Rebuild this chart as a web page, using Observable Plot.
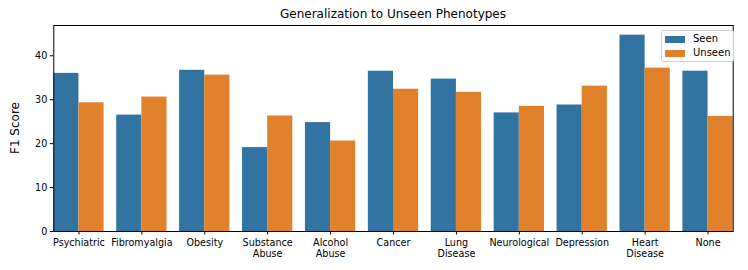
<!DOCTYPE html>
<html><head><meta charset="utf-8">
<script src="https://cdn.jsdelivr.net/npm/d3@7"></script>
<script src="https://cdn.jsdelivr.net/npm/@observablehq/plot@0.6"></script>
<style>
body{margin:0;background:#fff;font-family:"DejaVu Sans",sans-serif;}
#wrap{position:relative;width:748px;height:270px;overflow:hidden;}
#title{position:absolute;left:47px;width:692px;top:7px;height:14px;line-height:14px;font-size:12px;text-align:center;color:#000;}
#plot{position:absolute;left:0;top:24px;}
#ylab{position:absolute;left:14.5px;top:128px;font-size:12px;white-space:nowrap;transform:translate(-50%,-50%) rotate(-90deg);color:#000;}
#legend{position:absolute;left:661px;top:30px;width:71px;height:30px;border:1px solid #d0d0d0;border-radius:2px;background:rgba(255,255,255,0.8);font-size:10px;}
.li{position:absolute;left:3px;height:12px;line-height:12px;white-space:nowrap;}
.sw{display:inline-block;width:20px;height:7px;vertical-align:middle;margin-right:8px;}
</style></head>
<body><div id="wrap"><div id="title"></div><div id="plot"></div><div id="ylab"></div><div id="legend"></div></div>
<script>
const categories = ["Psychiatric","Fibromyalgia","Obesity","Substance\nAbuse","Alcohol\nAbuse","Cancer","Lung\nDisease","Neurological","Depression","Heart\nDisease","None"];
const series = ["Seen","Unseen"];
const seenValues = [36.0,26.5,36.7,19.1,24.8,36.5,34.7,27.0,28.8,44.7,36.5];
const unseenValues = [29.3,30.6,35.6,26.3,20.6,32.4,31.7,28.5,33.1,37.2,26.2];
const yTicks = [0,10,20,30,40];
const colors = ["#3274a1","#e1812c"];
const titleText = "Generalization to Unseen Phenotypes";
const yLabel = "F1 Score";

const data = categories.flatMap((c,i)=>[
  {category:c, series:series[0], value:seenValues[i]},
  {category:c, series:series[1], value:unseenValues[i]}
]);

const chart = Plot.plot({
  width:748, height:246, marginTop:1, marginLeft:47, marginRight:9, marginBottom:39,
  style:{fontFamily:"DejaVu Sans", fontSize:"9.6px", color:"#000", background:"transparent", overflow:"visible"},
  fx:{domain:categories, paddingInner:0.2, paddingOuter:0.1, round:false, label:null},
  x:{domain:series, padding:0, axis:null, round:false},
  y:{domain:[0,46.9], label:null},
  color:{domain:series, range:colors},
  marks:[
    Plot.barY(data,{fx:"category", x:"series", y:"value", fill:"series"}),
    Plot.axisY({ticks:yTicks, tickSize:3.5, tickPadding:3, label:null, stroke:"#000"}),
    Plot.axisFx({anchor:"bottom", tickSize:3.5, tickPadding:3, label:null, lineHeight:1.15, stroke:"#000"}),
    Plot.frame({facet:"super", stroke:"#000"})
  ]
});
document.getElementById("plot").appendChild(chart);
document.getElementById("title").textContent = titleText;
document.getElementById("ylab").textContent = yLabel;
const lg = document.getElementById("legend");
series.forEach((s,i)=>{
  const d = document.createElement("div");
  d.className="li"; d.style.top = (2+i*14)+"px";
  d.innerHTML = `<span class="sw" style="background:${colors[i]}"></span>${s}`;
  lg.appendChild(d);
});
</script>
</body></html>
